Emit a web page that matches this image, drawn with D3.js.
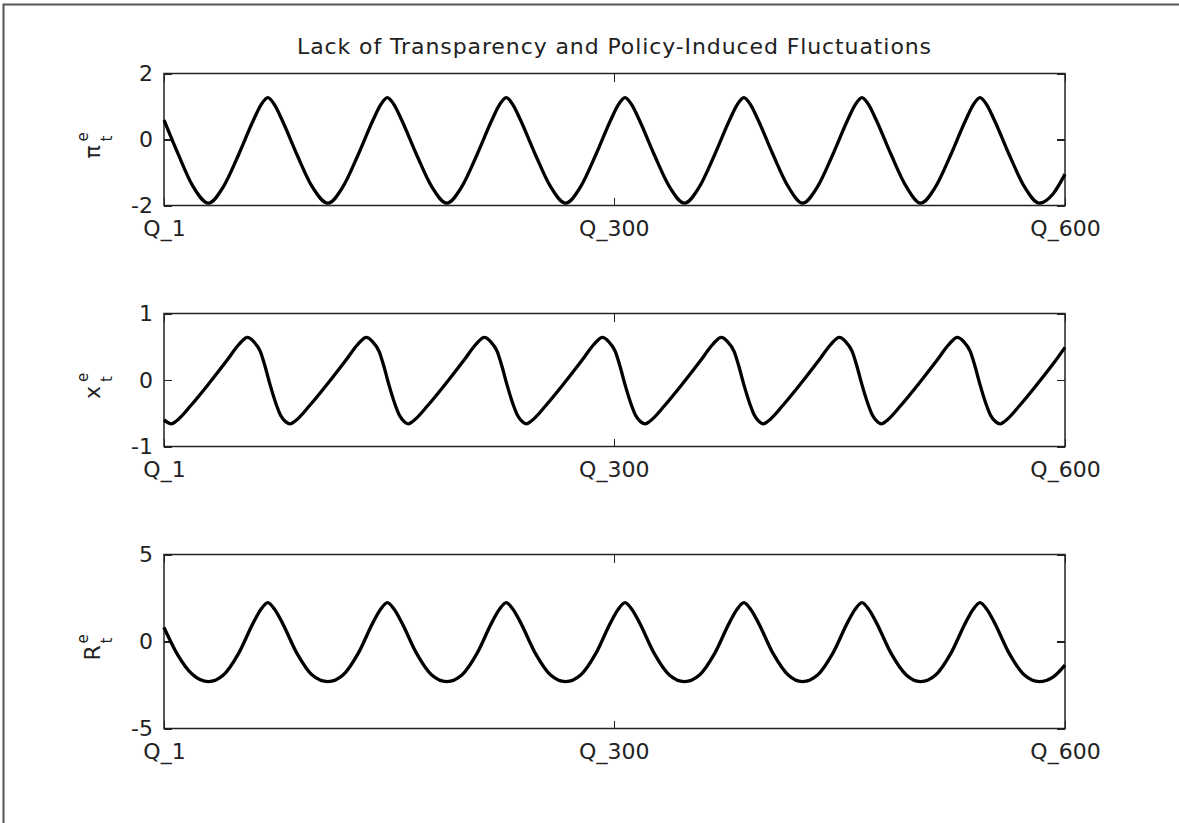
<!DOCTYPE html>
<html lang="en">
<head>
    <meta charset="UTF-8">
    <title>Lack of Transparency and Policy-Induced Fluctuations</title>
    <script type="text/javascript" src="https://cdn.jsdelivr.net/npm/d3@7"></script>
    <style>
        body { margin: 0; background: #fff; }
        text { font-family: "DejaVu Sans", sans-serif; fill: #222; }
        .axis line { stroke: #222; stroke-width: 1.3; shape-rendering: crispEdges; }
    </style>
</head>
<body>
    <script type="text/javascript">
        // x axis ticks (quarters)
        let qTicks = [1, 300, 600]
        let qLabels = ["Q_1", "Q_300", "Q_600"]

        // pi^e_t and R^e_t share the same sample quarters
        let piQ = [1, 10, 20, 30.5,
            40.5, 50.5, 60.5, 65.5, 70, 74.5, 79.5, 89.5, 99.5, 110,
            120, 130, 140, 145, 149.5, 154, 159, 169, 179, 189,
            199, 209, 219, 224, 228.5, 233, 238, 248, 258, 268,
            278, 288, 298, 303, 307.5, 312, 317, 327, 337, 347,
            357, 367, 377, 382, 386.5, 391, 396, 406, 416, 425.5,
            435.5, 445.5, 455.5, 460.5, 465, 469.5, 474.5, 484.5, 494.5, 504,
            514, 524, 534, 539, 543.5, 548, 553, 563, 573, 583,
            592, 600]
        let piV = [0.59, -0.40, -1.40, -1.93,
            -1.43, -0.47, 0.59, 1.05, 1.27, 1.05, 0.59, -0.47, -1.43, -1.93,
            -1.43, -0.47, 0.59, 1.05, 1.27, 1.05, 0.59, -0.47, -1.43, -1.93,
            -1.43, -0.47, 0.59, 1.05, 1.27, 1.05, 0.59, -0.47, -1.43, -1.93,
            -1.43, -0.47, 0.59, 1.05, 1.27, 1.05, 0.59, -0.47, -1.43, -1.93,
            -1.43, -0.47, 0.59, 1.05, 1.27, 1.05, 0.59, -0.47, -1.43, -1.93,
            -1.43, -0.47, 0.59, 1.05, 1.27, 1.05, 0.59, -0.47, -1.43, -1.93,
            -1.43, -0.47, 0.59, 1.05, 1.27, 1.05, 0.59, -0.47, -1.43, -1.93,
            -1.65, -1.05]
        let rV = [0.81, -0.75, -1.90, -2.31,
            -1.93, -0.70, 1.10, 1.85, 2.23, 1.85, 1.10, -0.70, -1.93, -2.31,
            -1.93, -0.70, 1.10, 1.85, 2.23, 1.85, 1.10, -0.70, -1.93, -2.31,
            -1.93, -0.70, 1.10, 1.85, 2.23, 1.85, 1.10, -0.70, -1.93, -2.31,
            -1.93, -0.70, 1.10, 1.85, 2.23, 1.85, 1.10, -0.70, -1.93, -2.31,
            -1.93, -0.70, 1.10, 1.85, 2.23, 1.85, 1.10, -0.70, -1.93, -2.31,
            -1.93, -0.70, 1.10, 1.85, 2.23, 1.85, 1.10, -0.70, -1.93, -2.31,
            -1.93, -0.70, 1.10, 1.85, 2.23, 1.85, 1.10, -0.70, -1.93, -2.31,
            -2.05, -1.36]

        // x^e_t: slow rise, faster fall
        let xQ = [1, 6,
            9, 19, 31, 43, 51, 56.5, 60.5, 65, 68.5, 71.5, 75.5, 78.5, 82, 85,
            88, 98, 110, 122, 130, 135.5, 139.5, 144, 147.5, 150.5, 154.5, 157.5, 161, 163.5,
            166.5, 176.5, 188.5, 200.5, 208.5, 214, 218, 222.5, 226, 229, 233, 236, 239.5, 242,
            245, 255, 267, 279, 287, 292.5, 296.5, 301, 304.5, 307.5, 311.5, 314.5, 318, 321,
            324, 334, 346, 358, 366, 371.5, 375.5, 380, 383.5, 386.5, 390.5, 393.5, 397, 399.5,
            402.5, 412.5, 424.5, 436.5, 444.5, 450, 454, 458.5, 462, 465, 469, 472, 475.5, 478,
            481, 491, 503, 515, 523, 528.5, 532.5, 537, 540.5, 543.5, 547.5, 550.5, 554, 557,
            560, 570, 582, 594, 600]
        let xV = [-0.60, -0.66,
            -0.62, -0.38, -0.05, 0.30, 0.54, 0.64, 0.58, 0.43, 0.18, -0.07, -0.36, -0.53, -0.63, -0.66,
            -0.62, -0.38, -0.05, 0.30, 0.54, 0.64, 0.58, 0.43, 0.18, -0.07, -0.36, -0.53, -0.63, -0.66,
            -0.62, -0.38, -0.05, 0.30, 0.54, 0.64, 0.58, 0.43, 0.18, -0.07, -0.36, -0.53, -0.63, -0.66,
            -0.62, -0.38, -0.05, 0.30, 0.54, 0.64, 0.58, 0.43, 0.18, -0.07, -0.36, -0.53, -0.63, -0.66,
            -0.62, -0.38, -0.05, 0.30, 0.54, 0.64, 0.58, 0.43, 0.18, -0.07, -0.36, -0.53, -0.63, -0.66,
            -0.62, -0.38, -0.05, 0.30, 0.54, 0.64, 0.58, 0.43, 0.18, -0.07, -0.36, -0.53, -0.63, -0.66,
            -0.62, -0.38, -0.05, 0.30, 0.54, 0.64, 0.58, 0.43, 0.18, -0.07, -0.36, -0.53, -0.63, -0.66,
            -0.62, -0.38, -0.05, 0.30, 0.49]

        let w = 1179, h = 823, left = 164, right = 1065

        let panels = [
            { top: 73.5, bottom: 205.5, domain: [-2, 2], ticks: [-2, 0, 2], q: piQ, v: piV, sym: "\u03c0" },
            { top: 313.5, bottom: 446.5, domain: [-1, 1], ticks: [-1, 0, 1], q: xQ, v: xV, sym: "x" },
            { top: 554.5, bottom: 728.5, domain: [-5, 5], ticks: [-5, 0, 5], q: piQ, v: rV, sym: "R" }
        ]

        let svg = d3.select("body")
            .append("svg")
            .attr("width", w)
            .attr("height", h)

        // outer frame (top and left edges)
        svg.append("path")
            .attr("d", "M3.5," + h + "V4.5H" + w)
            .attr("fill", "none")
            .attr("stroke", "#555")
            .attr("stroke-width", 2)

        svg.append("text")
            .attr("x", (left + right) / 2)
            .attr("y", 54)
            .attr("text-anchor", "middle")
            .attr("font-size", "22px")
            .attr("letter-spacing", "0.9px")
            .text("Lack of Transparency and Policy-Induced Fluctuations")

        let xScale = d3.scaleLinear()
            .domain([1, 600])
            .range([left, right])

        panels.forEach(p => {
            let yScale = d3.scaleLinear()
                .domain(p.domain)
                .range([p.bottom, p.top])

            let fix = g => {
                g.select(".domain").remove()
                g.selectAll("text").attr("font-size", "22px").attr("font-family", "DejaVu Sans, sans-serif")
            }

            svg.append("g").attr("class", "axis")
                .attr("transform", "translate(0," + p.bottom + ")")
                .call(d3.axisBottom(xScale).tickValues(qTicks)
                    .tickFormat((d, i) => qLabels[i]).tickSize(-8).tickPadding(15))
                .call(fix)

            svg.append("g").attr("class", "axis")
                .attr("transform", "translate(0," + p.top + ")")
                .call(d3.axisTop(xScale).tickValues(qTicks).tickFormat("").tickSize(-8))
                .call(fix)

            svg.append("g").attr("class", "axis")
                .attr("transform", "translate(" + left + ",0)")
                .call(d3.axisLeft(yScale).tickValues(p.ticks)
                    .tickFormat(d => String(d)).tickSize(-8).tickPadding(11))
                .call(fix)

            svg.append("g").attr("class", "axis")
                .attr("transform", "translate(" + right + ",0)")
                .call(d3.axisRight(yScale).tickValues(p.ticks).tickFormat("").tickSize(-8))
                .call(fix)

            svg.append("rect")
                .attr("x", left)
                .attr("y", p.top)
                .attr("width", right - left)
                .attr("height", p.bottom - p.top)
                .attr("fill", "none")
                .attr("stroke", "#222")
                .attr("stroke-width", 1.5)

            let line = d3.line()
                .x((d, i) => xScale(p.q[i]))
                .y(d => yScale(d))
                .curve(d3.curveMonotoneX)

            svg.append("path")
                .datum(p.v)
                .attr("d", line)
                .attr("fill", "none")
                .attr("stroke", "#000")
                .attr("stroke-width", 3.3)
                .attr("stroke-linejoin", "round")

            // rotated y label: sym^e_t
            let cy = (p.top + p.bottom) / 2 + 5
            let lab = svg.append("g")
                .attr("transform", "translate(95," + cy + ") rotate(-90)")
            lab.append("text").attr("x", -14).attr("y", 5).attr("font-size", "22px").text(p.sym)
            lab.append("text").attr("x", 3).attr("y", -7).attr("font-size", "15px").text("e")
            lab.append("text").attr("x", 3).attr("y", 17).attr("font-size", "15px").text("t")
        })
    </script>
</body>
</html>
